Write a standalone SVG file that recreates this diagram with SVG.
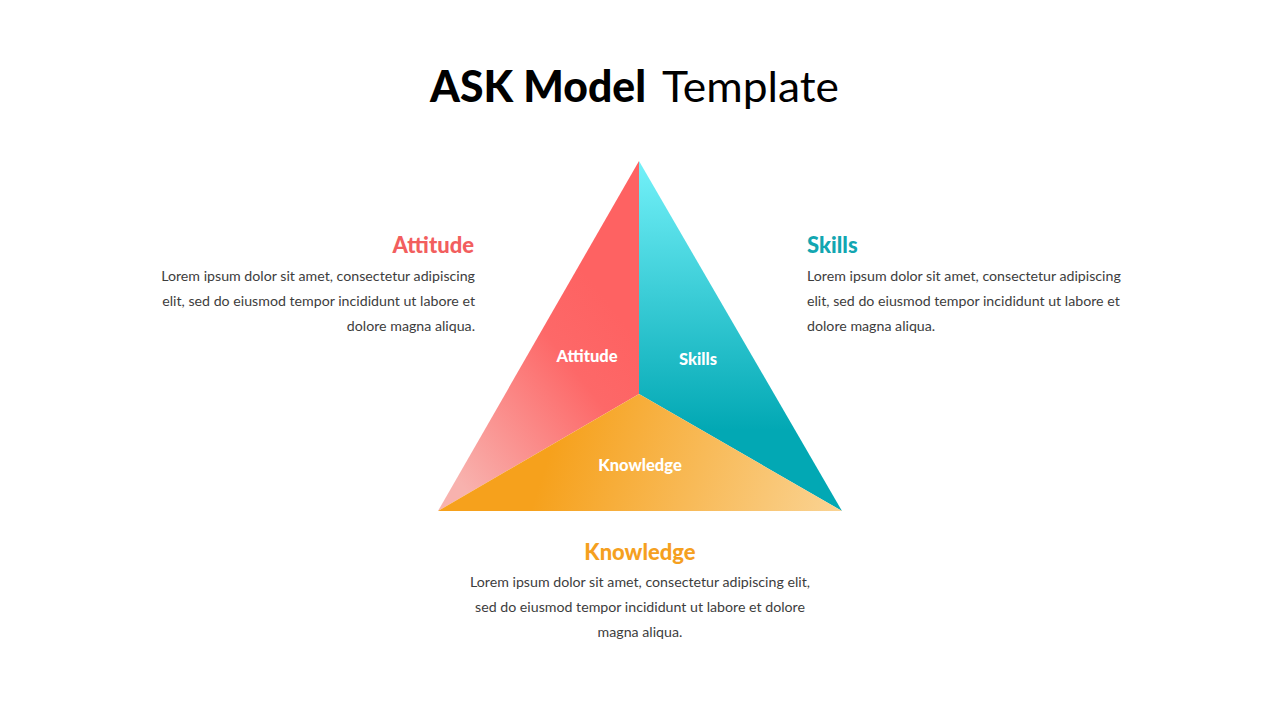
<svg xmlns="http://www.w3.org/2000/svg" width="1280" height="720" viewBox="0 0 1280 720">
<defs>
<linearGradient id="gA" gradientUnits="userSpaceOnUse" x1="630" y1="330" x2="450" y2="470">
<stop offset="0" stop-color="#FE6262"/>
<stop offset="0.3" stop-color="#FD6868"/>
<stop offset="1" stop-color="#F8B2AE"/>
</linearGradient>
<linearGradient id="gS" gradientUnits="userSpaceOnUse" x1="0" y1="165" x2="0" y2="430">
<stop offset="0" stop-color="#72F0F8"/>
<stop offset="1" stop-color="#02A8B4"/>
</linearGradient>
<linearGradient id="gK" gradientUnits="userSpaceOnUse" x1="560" y1="420" x2="840" y2="510">
<stop offset="0" stop-color="#F6A11C"/>
<stop offset="1" stop-color="#FAD393"/>
</linearGradient>
<style>
.h{font-family:Lato,"Liberation Sans",sans-serif;font-weight:900;font-size:22px}
.b{font-family:Lato,"Liberation Sans",sans-serif;font-size:14.2px;fill:#3d3d3d}
.in{font-family:Lato,"Liberation Sans",sans-serif;font-weight:900;font-size:16.5px;fill:#fff;text-anchor:middle}
</style>
</defs>
<g id="title">
<text x="430" y="102" font-family="Lato,'Liberation Sans',sans-serif" font-size="43" fill="#000"><tspan font-weight="900" textLength="216" lengthAdjust="spacingAndGlyphs">ASK Model</tspan><tspan x="662" font-weight="400" textLength="177" lengthAdjust="spacingAndGlyphs">Template</tspan></text>
</g>
<g id="triangle">
<g id="face-attitude">
<polygon points="639,161 639,394 438,511" fill="url(#gA)"/>
<text class="in" x="587" y="362">Attitude</text>
</g>
<g id="face-skills">
<polygon points="639,161 842,511 639,394" fill="url(#gS)"/>
<text class="in" x="698" y="365">Skills</text>
</g>
<g id="face-knowledge">
<polygon points="438,511 639,394 842,511" fill="url(#gK)"/>
<text class="in" x="640" y="471">Knowledge</text>
</g>
</g>
<g id="attitude">
<text class="h" x="474" y="253" text-anchor="end" fill="#F25E5E">Attitude</text>
<text class="b" text-anchor="end"><tspan x="475" y="281">Lorem ipsum dolor sit amet, consectetur adipiscing</tspan><tspan x="475" y="306">elit, sed do eiusmod tempor incididunt ut labore et</tspan><tspan x="475" y="331">dolore magna aliqua.</tspan></text>
</g>
<g id="skills">
<text class="h" x="807" y="253" fill="#12A6B1">Skills</text>
<text class="b"><tspan x="807" y="281">Lorem ipsum dolor sit amet, consectetur adipiscing</tspan><tspan x="807" y="306">elit, sed do eiusmod tempor incididunt ut labore et</tspan><tspan x="807" y="331">dolore magna aliqua.</tspan></text>
</g>
<g id="knowledge">
<text class="h" x="640" y="560" text-anchor="middle" fill="#F5A01F">Knowledge</text>
<text class="b" text-anchor="middle"><tspan x="640" y="587">Lorem ipsum dolor sit amet, consectetur adipiscing elit,</tspan><tspan x="640" y="612">sed do eiusmod tempor incididunt ut labore et dolore</tspan><tspan x="640" y="637">magna aliqua.</tspan></text>
</g>
</svg>
